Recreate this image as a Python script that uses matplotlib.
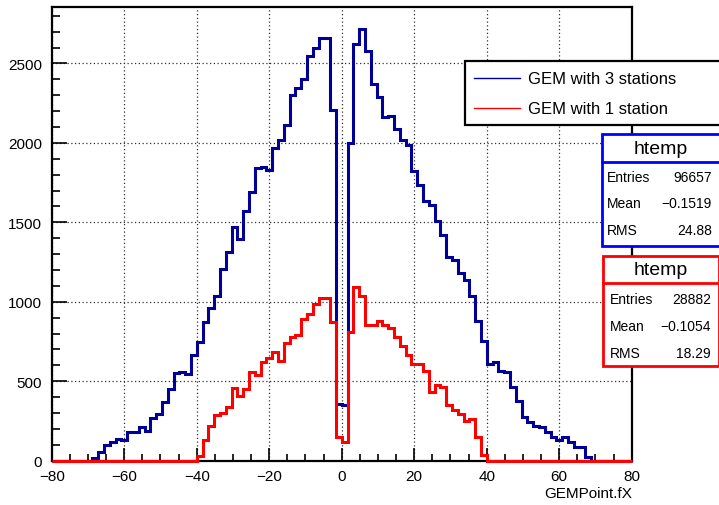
import numpy as np
import matplotlib
matplotlib.use("Agg")
import matplotlib.pyplot as plt
from matplotlib.patches import Rectangle
from matplotlib.lines import Line2D
from matplotlib.ticker import MultipleLocator

plt.rcParams['font.family'] = ['Liberation Sans', 'DejaVu Sans']

# 100 bins of GEMPoint.fX from -80 to 80
x_lo, x_hi, n_bins = -80, 80, 100

# GEM with 3 stations
counts_3st = [0, 0, 0, 0, 0, 0, 0, 15, 53, 99,
              120, 137, 130, 179, 179, 210, 189, 267, 294, 368,
              452, 552, 557, 546, 666, 750, 871, 961, 1039, 1207,
              1312, 1470, 1396, 1570, 1690, 1841, 1851, 1831, 1969, 2015,
              2114, 2299, 2345, 2404, 2547, 2597, 2662, 2662, 2204, 357,
              350, 2001, 2624, 2718, 2578, 2372, 2288, 2162, 2170, 2089,
              2015, 1984, 1826, 1732, 1637, 1610, 1511, 1421, 1281, 1260,
              1182, 1134, 1039, 878, 756, 609, 623, 567, 557, 462,
              378, 273, 242, 217, 210, 179, 147, 128, 147, 116,
              88, 88, 21, 0, 0, 0, 0, 0, 0, 0]

# GEM with 1 station
counts_1st = [0] * 25 + [
              31, 130, 220, 285, 303, 336, 458, 410, 452, 557,
              540, 623, 645, 683, 630, 741, 777, 792, 892, 924,
              987, 1023, 1023, 875, 147, 120, 810, 1092, 1039, 857,
              857, 882, 855, 834, 777, 724, 666, 609, 609, 567,
              435, 477, 462, 351, 321, 294, 252, 263, 147, 36] + [0] * 25

labels = ["GEM with 3 stations", "GEM with 1 station"]
stats_3st = [("Entries", "96657"), ("Mean", "\u22120.1519"), ("RMS", "24.88")]
stats_1st = [("Entries", "28882"), ("Mean", "\u22120.1054"), ("RMS", "18.29")]

navy = "#000099"
red = "#ff0000"

W, H = 719, 506
fig = plt.figure(figsize=(W / 100, H / 100), dpi=100)


def fx(px):
    return px / W


def fy(py):
    return 1 - py / H


ax = fig.add_axes([fx(51.7), fy(461.7), fx(631.7) - fx(51.7), fy(8) - fy(461.7)])

edges = np.linspace(x_lo, x_hi, n_bins + 1)
ax.stairs(counts_3st, edges, color=navy, linewidth=2.2, clip_on=False, zorder=3)
ax.stairs(counts_1st, edges, color=red, linewidth=2.2, clip_on=False, zorder=4)

ax.set_xlim(x_lo, x_hi)
ax.set_ylim(0, 2855)

ax.xaxis.set_major_locator(MultipleLocator(20))
ax.xaxis.set_minor_locator(MultipleLocator(5))
ax.yaxis.set_major_locator(MultipleLocator(500))
ax.yaxis.set_minor_locator(MultipleLocator(100))

ax.tick_params(axis='x', which='major', direction='in', length=9.4, width=1.2, labelsize=11, pad=6)
ax.tick_params(axis='x', which='minor', direction='in', length=5, width=1.2)
ax.tick_params(axis='y', which='major', direction='in', length=10.8, width=1.2, labelsize=11, pad=7)
ax.tick_params(axis='y', which='minor', direction='in', length=5.8, width=1.2)

ax.grid(True, which='major', linestyle=(0, (1, 2)), color='#333333', linewidth=0.9)
for s in ax.spines.values():
    s.set_linewidth(1.6)

fig.text(fx(632), fy(494), "GEMPoint.fX", ha='right', va='center', fontsize=11)

# legend
fig.add_artist(Rectangle((fx(465), fy(126)), fx(722) - fx(465), fy(62) - fy(126),
                         transform=fig.transFigure, facecolor='white', edgecolor='black', linewidth=1.6))
for lab, col, ly in zip(labels, [navy, red], [79, 109]):
    fig.add_artist(Line2D([fx(474), fx(520)], [fy(ly), fy(ly)], transform=fig.transFigure,
                          color=col, linewidth=1))
    fig.text(fx(528), fy(ly), lab, ha='left', va='center', fontsize=12)


# stat boxes
def stat_box(x0, x1, y0, ysep, y1, col, rows, rows_y, lab_x, val_x):
    fig.add_artist(Rectangle((fx(x0), fy(y1)), fx(x1) - fx(x0), fy(y0) - fy(y1),
                             transform=fig.transFigure, facecolor='white', edgecolor=col, linewidth=2))
    fig.add_artist(Line2D([fx(x0), fx(x1)], [fy(ysep), fy(ysep)], transform=fig.transFigure,
                          color=col, linewidth=2))
    fig.text(fx((x0 + min(x1, W)) / 2), fy((y0 + ysep) / 2), "htemp", ha='center', va='center', fontsize=14)
    for (k, v), ry in zip(rows, rows_y):
        fig.text(fx(lab_x), fy(ry), k, ha='left', va='center', fontsize=10)
        fig.text(fx(val_x), fy(ry), v, ha='right', va='center', fontsize=10)


stat_box(602, 721, 135, 163, 247, "#0000ff", stats_3st, [178, 204, 231], 607, 712)
stat_box(603, 719, 257, 284, 367, red, stats_1st, [300, 327, 354], 610, 711)

fig.savefig("out.png", dpi=100)
